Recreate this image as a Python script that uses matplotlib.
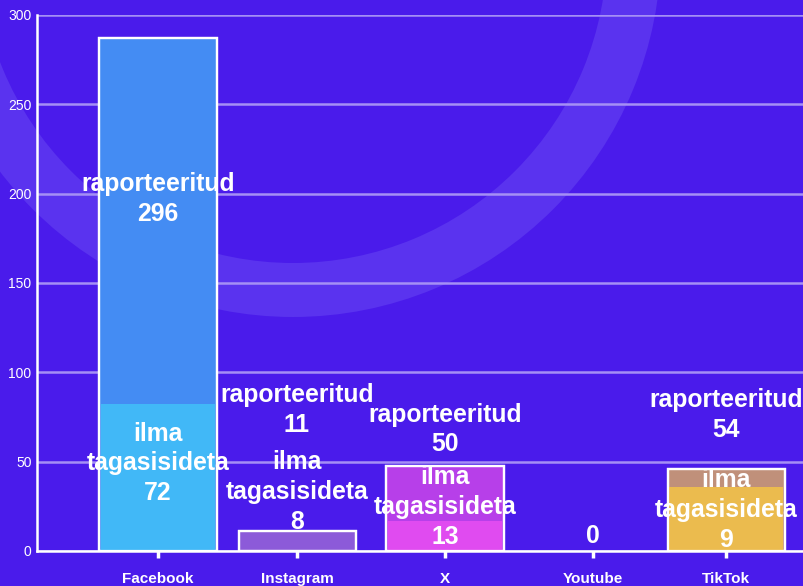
import matplotlib.pyplot as plt
from matplotlib.patches import Wedge

plt.rcParams['font.family'] = ['Liberation Sans', 'DejaVu Sans']

platforms = ['Facebook', 'Instagram', 'X', 'Youtube', 'TikTok']
# bar heights as drawn in the picture
rap_height = [287, 11, 47.5, 0, 46]
ilma_height = [82, 0, 17, 0, 36]
# numbers printed in the labels
rap_label = [296, 11, 50, 0, 54]
ilma_label = [72, 8, 13, 0, 9]
# label centres (y, data units)
rap_text_y = [197, 79, 68, None, 76]
ilma_text_y = [49, 33, 24.6, None, 23]

rap_colors = ['#448cf3', '#8c5ad9', '#b73fe9', '#4a1beb', '#c0907a']
ilma_colors = ['#41b8f7', '#8c5ad9', '#e04bf0', '#4a1beb', '#ebbb4e']

# category slot positions (slightly uneven in the original)
x = [0, 0.979, 2.021, 3.063, 4.0]

bg = '#4a1beb'
fig = plt.figure(figsize=(8.04, 5.86), dpi=100, facecolor=bg)

# decorative ring in the background
ring = fig.add_axes([0, 0, 1, 1], zorder=0)
ring.set_xlim(0, 804)
ring.set_ylim(586, 0)
ring.axis('off')
ring.add_patch(Wedge((293, -51), 368, 0, 360, width=54, facecolor='#5a33ef', edgecolor='none'))

ax = fig.add_axes([37 / 804, 35 / 586, 767 / 804, 536 / 586], zorder=1)
ax.patch.set_alpha(0)

w = 0.824
lw = [1.6 if h > 0 else 0 for h in rap_height]
ax.bar(x, rap_height, width=w, color=rap_colors, edgecolor='white', linewidth=lw, zorder=3)
ax.bar(x, ilma_height, width=w - 0.02, color=ilma_colors, edgecolor='none', zorder=3)
# outline again on top of the lower part
ax.bar(x, rap_height, width=w, color='none', edgecolor='white', linewidth=lw, zorder=4)

tkw = dict(ha='center', va='center', color='white', fontsize=17.8, fontweight='bold',
           linespacing=1.3, zorder=5)
for i in range(len(platforms)):
    if rap_text_y[i] is None:
        ax.text(x[i], 8.4, str(rap_label[i]), **tkw)
        continue
    ax.text(x[i], rap_text_y[i], 'raporteeritud\n%d' % rap_label[i], **tkw)
    ax.text(x[i], ilma_text_y[i], 'ilma\ntagasisideta\n%d' % ilma_label[i], **tkw)

ax.set_xlim(-0.852, 4.549)
ax.set_ylim(0, 300)
ax.set_yticks(range(0, 301, 50))
ax.yaxis.grid(True, color='#a58ff5', linewidth=1.8, zorder=1)
ax.set_axisbelow(True)

ax.set_xticks(x)
ax.set_xticklabels(platforms, fontsize=11, fontweight='bold', color='white')
ax.tick_params(axis='x', colors='white', length=5, width=2.5, pad=10, labelcolor='white')
ax.tick_params(axis='y', colors='white', length=0, pad=4, labelsize=10, labelcolor='white')

for s in ['top', 'right']:
    ax.spines[s].set_visible(False)
for s in ['left', 'bottom']:
    ax.spines[s].set_color('white')
    ax.spines[s].set_linewidth(1.8)

fig.savefig('out.png', dpi=100, facecolor=bg)
